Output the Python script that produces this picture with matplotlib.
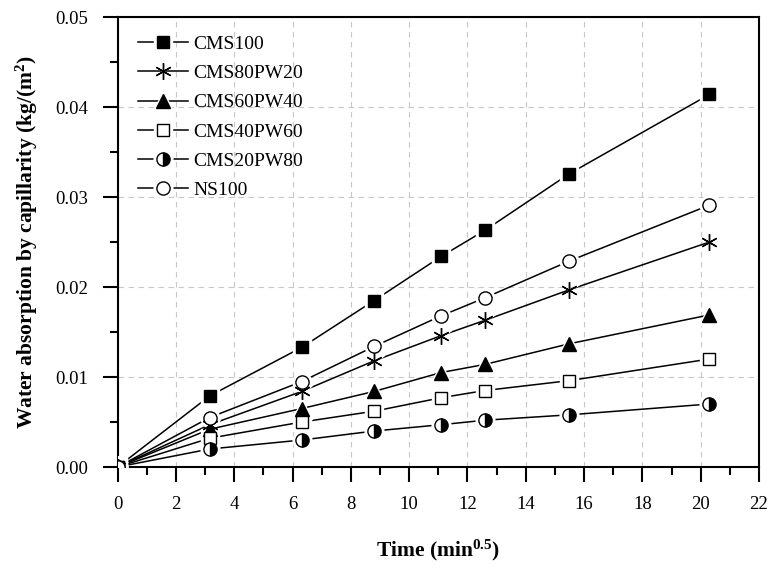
"""
Capillary water absorption vs square root of time.
"""
import numpy as np
import matplotlib
matplotlib.use("Agg")
import matplotlib.pyplot as plt
from matplotlib.ticker import MultipleLocator, FormatStrFormatter
from matplotlib.legend_handler import HandlerTuple

plt.rcParams["font.family"] = ["Liberation Serif", "DejaVu Serif"]
plt.rcParams["mathtext.fontset"] = "custom"
plt.rcParams["mathtext.rm"] = "Liberation Serif"
plt.rcParams["mathtext.bf"] = "Liberation Serif:bold"
plt.rcParams["mathtext.default"] = "bf"

# ---- data ----
time_sqrt = [0, 3.16, 6.32, 8.8, 11.1, 12.6, 15.5, 20.3]
cms100 = [0, 0.0079, 0.0133, 0.0185, 0.0234, 0.0263, 0.0326, 0.0414]
cms80pw20 = [0, 0.0047, 0.0084, 0.0118, 0.0146, 0.0163, 0.0197, 0.0250]
cms60pw40 = [0, 0.0042, 0.0065, 0.0084, 0.0105, 0.0114, 0.0137, 0.0169]
cms40pw60 = [0, 0.0032, 0.0050, 0.0062, 0.0077, 0.0085, 0.0096, 0.0120]
cms20pw80 = [0, 0.0020, 0.0030, 0.0040, 0.0047, 0.0052, 0.0058, 0.0070]
ns100 = [0, 0.0055, 0.0095, 0.0134, 0.0168, 0.0188, 0.0229, 0.0291]

series = [
    ("CMS100", cms100, dict(marker="s", mfc="black", ms=9)),
    ("CMS80PW20", cms80pw20, dict(marker=(6, 2, 0), mfc="black", ms=12)),
    ("CMS60PW40", cms60pw40, dict(marker="^", mfc="black", ms=10.5)),
    ("CMS40PW60", cms40pw60, dict(marker="s", mfc="white", ms=9)),
    ("CMS20PW80", cms20pw80, dict(marker="o", mfc="black", fillstyle="right",
                                  markerfacecoloralt="white", ms=9.5)),
    ("NS100", ns100, dict(marker="o", mfc="white", ms=9.5)),
]

fig = plt.figure(figsize=(7.7, 5.68), dpi=100)
ax = fig.add_axes([0.1527, 0.1778, 0.9857 - 0.1527, 0.970 - 0.1778])

handles, labels = [], []
for name, vals, style in series:
    # line, then a white halo so the line stops short of each marker
    ax.plot(time_sqrt, vals, color="black", lw=1.1, zorder=3)
    halo, = ax.plot(time_sqrt, vals, ls="none", marker=style["marker"],
                    ms=style["ms"] + 4, mfc="white", mec="white", mew=1.0, zorder=4)
    mk, = ax.plot(time_sqrt, vals, ls="none", mec="black", mew=1.0, zorder=5, **style)
    line_h, = ax.plot([], [], color="black", lw=1.1)
    handles.append((line_h, halo, mk))
    labels.append(name)

ax.set_xlim(0, 22)
ax.set_ylim(0, 0.05)
ax.xaxis.set_major_locator(MultipleLocator(2))
ax.xaxis.set_minor_locator(MultipleLocator(1))
ax.yaxis.set_major_locator(MultipleLocator(0.01))
ax.yaxis.set_minor_locator(MultipleLocator(0.005))
ax.yaxis.set_major_formatter(FormatStrFormatter("%.2f"))

ax.grid(True, which="major", color="#c8c8c8", lw=0.8, ls=(0, (5, 4)))
ax.set_axisbelow(True)
for s in ax.spines.values():
    s.set_linewidth(1.5)
ax.tick_params(which="major", direction="out", length=11, width=1.5,
               labelsize=13.5, pad=10)
ax.tick_params(which="minor", direction="out", length=5.5, width=1.5)

ax.set_xlabel("Time (min$^{0.5}$)", fontsize=15.5, fontweight="bold", labelpad=18)
ax.set_ylabel("Water absorption by capillarity (kg/(m$^{2}$)", fontsize=15.5,
              fontweight="bold", labelpad=11)

ax.legend(handles, labels, loc="upper left", frameon=False, fontsize=14,
          handler_map={tuple: HandlerTuple(ndivide=1, pad=0)},
          handlelength=2.6, handletextpad=0.25, labelspacing=0.6,
          borderaxespad=0.3, bbox_to_anchor=(0.01, 0.99))

plt.savefig("out.png", dpi=100)
plt.close()
print("saved out.png")
